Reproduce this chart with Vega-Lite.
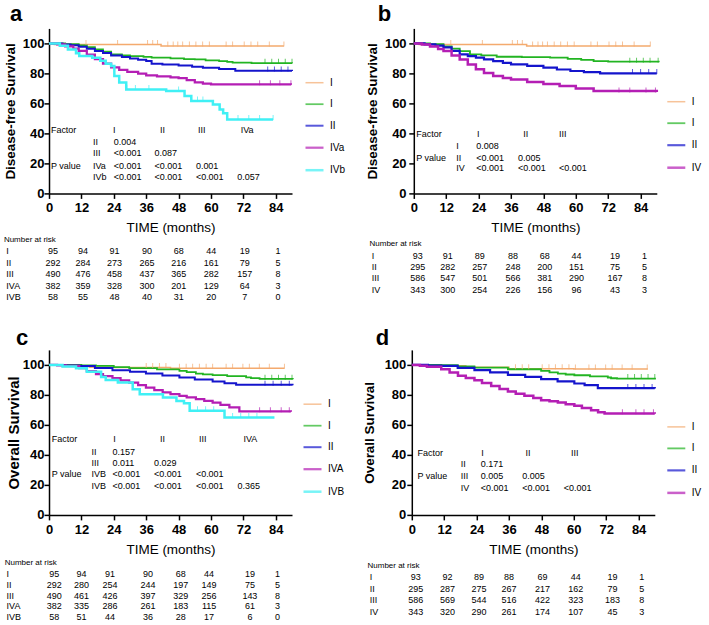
{
"$schema":"https://vega.github.io/schema/vega-lite/v6.json",
"padding":{"left":3,"top":2.4,"right":0,"bottom":0},
"background":"white",
"datasets":{
"ca":[
{"g":"I","t":0,"v":100},{"g":"I","t":2,"v":99.3},{"g":"I","t":41.5,"v":98.3},{"g":"I","t":87,"v":98.3},
{"g":"II","t":0,"v":100},{"g":"II","t":6,"v":99.5},{"g":"II","t":11,"v":98.7},{"g":"II","t":14,"v":97.5},{"g":"II","t":17,"v":96},{"g":"II","t":20,"v":94.5},{"g":"II","t":23,"v":92.7},{"g":"II","t":27,"v":92},{"g":"II","t":30,"v":91.5},{"g":"II","t":35,"v":91},{"g":"II","t":38,"v":90.5},{"g":"II","t":45,"v":90},{"g":"II","t":50,"v":89.5},{"g":"II","t":54,"v":89.3},{"g":"II","t":58,"v":88.7},{"g":"II","t":63,"v":88.2},{"g":"II","t":66,"v":87.6},{"g":"II","t":68,"v":87.1},{"g":"II","t":75,"v":86.8},{"g":"II","t":90,"v":86.7},
{"g":"III","t":0,"v":100},{"g":"III","t":5,"v":99.3},{"g":"III","t":8,"v":98.7},{"g":"III","t":11,"v":97.8},{"g":"III","t":14,"v":96.5},{"g":"III","t":17,"v":95},{"g":"III","t":20,"v":93.6},{"g":"III","t":23,"v":92},{"g":"III","t":27,"v":91},{"g":"III","t":30,"v":90},{"g":"III","t":33,"v":89.1},{"g":"III","t":36,"v":88.2},{"g":"III","t":38,"v":86.5},{"g":"III","t":42,"v":86},{"g":"III","t":48,"v":85.3},{"g":"III","t":53,"v":84.5},{"g":"III","t":57,"v":83.8},{"g":"III","t":63,"v":83},{"g":"III","t":69,"v":81.8},{"g":"III","t":90,"v":81.6},
{"g":"IVa","t":0,"v":100},{"g":"IVa","t":3,"v":99.3},{"g":"IVa","t":6,"v":98},{"g":"IVa","t":9,"v":96.5},{"g":"IVa","t":11,"v":95},{"g":"IVa","t":14,"v":92.5},{"g":"IVa","t":17,"v":89.5},{"g":"IVa","t":20,"v":86.5},{"g":"IVa","t":23,"v":84},{"g":"IVa","t":26,"v":82.3},{"g":"IVa","t":29,"v":81},{"g":"IVa","t":33,"v":79.8},{"g":"IVa","t":36,"v":78.7},{"g":"IVa","t":40,"v":78},{"g":"IVa","t":45,"v":77.3},{"g":"IVa","t":48,"v":76.8},{"g":"IVa","t":51,"v":75.5},{"g":"IVa","t":54,"v":74},{"g":"IVa","t":57,"v":73.2},{"g":"IVa","t":60,"v":72.6},{"g":"IVa","t":89.6,"v":72.4},
{"g":"IVb","t":0,"v":100},{"g":"IVb","t":4,"v":98.5},{"g":"IVb","t":7,"v":96},{"g":"IVb","t":10,"v":93.5},{"g":"IVb","t":11.2,"v":91.6},{"g":"IVb","t":16,"v":90.5},{"g":"IVb","t":19,"v":88.5},{"g":"IVb","t":21,"v":86.5},{"g":"IVb","t":23,"v":84.9},{"g":"IVb","t":24.2,"v":78.2},{"g":"IVb","t":26,"v":74},{"g":"IVb","t":28.6,"v":69.3},{"g":"IVb","t":43.4,"v":68.2},{"g":"IVb","t":50.2,"v":64.9},{"g":"IVb","t":52.7,"v":61.6},{"g":"IVb","t":60.7,"v":59.3},{"g":"IVb","t":63.2,"v":56},{"g":"IVb","t":64.5,"v":53.5},{"g":"IVb","t":66,"v":49.3},{"g":"IVb","t":83,"v":49.3}
],
"cb":[
{"g":"I","t":0,"v":100},{"g":"I","t":2,"v":99.3},{"g":"I","t":41.8,"v":98.3},{"g":"I","t":87.6,"v":98.3},
{"g":"II","t":0,"v":100},{"g":"II","t":6,"v":99.5},{"g":"II","t":11,"v":98},{"g":"II","t":14,"v":96.5},{"g":"II","t":17,"v":94.9},{"g":"II","t":20.8,"v":92.7},{"g":"II","t":25,"v":92},{"g":"II","t":30.7,"v":91.1},{"g":"II","t":40,"v":90.8},{"g":"II","t":50.5,"v":90.5},{"g":"II","t":57,"v":89.7},{"g":"II","t":62,"v":89},{"g":"II","t":66.6,"v":88.2},{"g":"II","t":72,"v":87.8},{"g":"II","t":90.7,"v":87.5},
{"g":"III","t":0,"v":100},{"g":"III","t":4,"v":99.3},{"g":"III","t":8,"v":98.5},{"g":"III","t":11,"v":97.3},{"g":"III","t":14,"v":95},{"g":"III","t":17,"v":92.7},{"g":"III","t":20,"v":91.5},{"g":"III","t":23,"v":90.5},{"g":"III","t":26,"v":89.4},{"g":"III","t":29.4,"v":88.2},{"g":"III","t":33,"v":87},{"g":"III","t":36,"v":86},{"g":"III","t":42,"v":85},{"g":"III","t":48,"v":83.8},{"g":"III","t":53,"v":82.6},{"g":"III","t":58,"v":81.6},{"g":"III","t":63,"v":80.8},{"g":"III","t":69,"v":80},{"g":"III","t":90,"v":80},
{"g":"IV","t":0,"v":100},{"g":"IV","t":3,"v":99.2},{"g":"IV","t":6,"v":98},{"g":"IV","t":9,"v":96.3},{"g":"IV","t":11,"v":94.9},{"g":"IV","t":14,"v":92},{"g":"IV","t":17,"v":89.3},{"g":"IV","t":20,"v":86},{"g":"IV","t":23,"v":82.7},{"g":"IV","t":26,"v":80.3},{"g":"IV","t":29.4,"v":78.2},{"g":"IV","t":33,"v":77},{"g":"IV","t":36,"v":76},{"g":"IV","t":42,"v":74.2},{"g":"IV","t":48,"v":73},{"g":"IV","t":54,"v":71.6},{"g":"IV","t":60,"v":70},{"g":"IV","t":66.6,"v":68.2},{"g":"IV","t":90,"v":67.6}
],
"cc":[
{"g":"I","t":0,"v":100},{"g":"I","t":5,"v":99},{"g":"I","t":15,"v":98.5},{"g":"I","t":24,"v":98.2},{"g":"I","t":45,"v":97.8},{"g":"I","t":87.2,"v":97.8},
{"g":"II","t":0,"v":100},{"g":"II","t":12,"v":99.6},{"g":"II","t":17.4,"v":99.3},{"g":"II","t":24,"v":98.5},{"g":"II","t":29.7,"v":97.8},{"g":"II","t":40,"v":97},{"g":"II","t":48.3,"v":96},{"g":"II","t":51,"v":95.2},{"g":"II","t":54.4,"v":94.2},{"g":"II","t":57,"v":93.6},{"g":"II","t":60.6,"v":93.1},{"g":"II","t":66,"v":92.5},{"g":"II","t":73,"v":91.6},{"g":"II","t":74.8,"v":91.1},{"g":"II","t":78,"v":90.6},{"g":"II","t":90.3,"v":90.5},
{"g":"III","t":0,"v":100},{"g":"III","t":6,"v":99.6},{"g":"III","t":11.2,"v":99.3},{"g":"III","t":17,"v":98},{"g":"III","t":23.5,"v":96.5},{"g":"III","t":30,"v":95.4},{"g":"III","t":35.9,"v":94.2},{"g":"III","t":42,"v":92.9},{"g":"III","t":48.3,"v":91.6},{"g":"III","t":54,"v":90.2},{"g":"III","t":60.6,"v":88.9},{"g":"III","t":65,"v":87.8},{"g":"III","t":69.3,"v":86.7},{"g":"III","t":90.2,"v":86.5},
{"g":"IVA","t":0,"v":100},{"g":"IVA","t":3,"v":99.6},{"g":"IVA","t":6.2,"v":99.3},{"g":"IVA","t":11.2,"v":97.8},{"g":"IVA","t":14,"v":95.8},{"g":"IVA","t":17.4,"v":93.8},{"g":"IVA","t":20,"v":92.5},{"g":"IVA","t":23.5,"v":91.1},{"g":"IVA","t":26.5,"v":89.6},{"g":"IVA","t":29.7,"v":88.2},{"g":"IVA","t":33,"v":86.5},{"g":"IVA","t":35.9,"v":84.9},{"g":"IVA","t":39,"v":83.2},{"g":"IVA","t":42.1,"v":81.6},{"g":"IVA","t":45,"v":80.5},{"g":"IVA","t":48.3,"v":79.4},{"g":"IVA","t":51,"v":78.3},{"g":"IVA","t":54.4,"v":77.2},{"g":"IVA","t":57.5,"v":76},{"g":"IVA","t":60.6,"v":74.9},{"g":"IVA","t":63.5,"v":73.3},{"g":"IVA","t":66.8,"v":71.6},{"g":"IVA","t":70.5,"v":69},{"g":"IVA","t":89.6,"v":68.8},
{"g":"IVB","t":0,"v":100},{"g":"IVB","t":5,"v":98.9},{"g":"IVB","t":10,"v":97.8},{"g":"IVB","t":14,"v":95.5},{"g":"IVB","t":19.3,"v":92},{"g":"IVB","t":21,"v":90},{"g":"IVB","t":25.5,"v":88.2},{"g":"IVB","t":31,"v":83.8},{"g":"IVB","t":33.6,"v":80.5},{"g":"IVB","t":42.2,"v":78.3},{"g":"IVB","t":47.2,"v":76},{"g":"IVB","t":50,"v":74.5},{"g":"IVB","t":52.1,"v":69.4},{"g":"IVB","t":65,"v":65},{"g":"IVB","t":83.5,"v":65}
],
"cd":[
{"g":"I","t":0,"v":100},{"g":"I","t":5,"v":99.5},{"g":"I","t":20,"v":98.5},{"g":"I","t":36,"v":97.5},{"g":"I","t":60,"v":97.2},{"g":"I","t":87.4,"v":97.2},
{"g":"II","t":0,"v":100},{"g":"II","t":10.9,"v":99.8},{"g":"II","t":17,"v":99},{"g":"II","t":23.2,"v":98.2},{"g":"II","t":35.6,"v":97.1},{"g":"II","t":47.9,"v":96},{"g":"II","t":51,"v":95},{"g":"II","t":54.1,"v":94.2},{"g":"II","t":57,"v":93.6},{"g":"II","t":60.2,"v":93.1},{"g":"II","t":66,"v":92.3},{"g":"II","t":72.6,"v":91.6},{"g":"II","t":73.8,"v":91.1},{"g":"II","t":76,"v":90.9},{"g":"II","t":90.4,"v":90.9},
{"g":"III","t":0,"v":100},{"g":"III","t":6,"v":99.6},{"g":"III","t":10.9,"v":99.3},{"g":"III","t":17,"v":98},{"g":"III","t":23.2,"v":96.5},{"g":"III","t":29,"v":95},{"g":"III","t":35.6,"v":93.3},{"g":"III","t":42,"v":92},{"g":"III","t":47.9,"v":90.5},{"g":"III","t":54,"v":89},{"g":"III","t":60.2,"v":87.6},{"g":"III","t":64,"v":86.5},{"g":"III","t":68.9,"v":84.5},{"g":"III","t":90,"v":84.3},
{"g":"IV","t":0,"v":100},{"g":"IV","t":3,"v":99.5},{"g":"IV","t":5.6,"v":98.7},{"g":"IV","t":10.9,"v":97.1},{"g":"IV","t":14,"v":95},{"g":"IV","t":17.1,"v":92.7},{"g":"IV","t":20,"v":91.2},{"g":"IV","t":23.2,"v":89.8},{"g":"IV","t":26,"v":88},{"g":"IV","t":29.4,"v":86},{"g":"IV","t":32.5,"v":84},{"g":"IV","t":35.6,"v":82.3},{"g":"IV","t":38.5,"v":80.8},{"g":"IV","t":41.7,"v":79.4},{"g":"IV","t":45,"v":78},{"g":"IV","t":47.9,"v":76.5},{"g":"IV","t":51,"v":75.7},{"g":"IV","t":54.1,"v":74.9},{"g":"IV","t":57,"v":73.8},{"g":"IV","t":60.2,"v":72.7},{"g":"IV","t":63,"v":71.3},{"g":"IV","t":66.4,"v":69.8},{"g":"IV","t":69,"v":68.5},{"g":"IV","t":71.4,"v":67.6},{"g":"IV","t":90,"v":67.4}
],
"ka":[
{"g":"I","t":13.7,"v":99.3},{"g":"I","t":25.4,"v":99.3},{"g":"I","t":36.5,"v":99.3},{"g":"I","t":38.4,"v":99.3},{"g":"I","t":40.2,"v":99.3},{"g":"I","t":44,"v":98.3},{"g":"I","t":46,"v":98.3},{"g":"I","t":47.7,"v":98.3},{"g":"I","t":49.5,"v":98.3},{"g":"I","t":52,"v":98.3},{"g":"I","t":54.4,"v":98.3},{"g":"I","t":56.9,"v":98.3},{"g":"I","t":59.4,"v":98.3},{"g":"I","t":65.6,"v":98.3},{"g":"I","t":68,"v":98.3},{"g":"I","t":72.3,"v":98.3},{"g":"I","t":74.8,"v":98.3},{"g":"I","t":77.3,"v":98.3},{"g":"I","t":81.6,"v":98.3},{"g":"I","t":87,"v":98.3},
{"g":"II","t":80,"v":86.7},{"g":"II","t":82.5,"v":86.7},{"g":"II","t":85,"v":86.7},{"g":"II","t":87.5,"v":86.7},{"g":"II","t":90,"v":86.7},
{"g":"III","t":81,"v":81.6},{"g":"III","t":83.5,"v":81.6},{"g":"III","t":86,"v":81.6},{"g":"III","t":88.5,"v":81.6},
{"g":"IVa","t":78,"v":72.4},{"g":"IVa","t":82,"v":72.4},{"g":"IVa","t":85.5,"v":72.4},{"g":"IVa","t":89.6,"v":72.4},
{"g":"IVb","t":28.8,"v":69.3},{"g":"IVb","t":32,"v":69.3},{"g":"IVb","t":37,"v":69.3},{"g":"IVb","t":48,"v":68.2},{"g":"IVb","t":55,"v":61.6},{"g":"IVb","t":57,"v":61.6},{"g":"IVb","t":70,"v":49.3},{"g":"IVb","t":74,"v":49.3},{"g":"IVb","t":78,"v":49.3},{"g":"IVb","t":83,"v":49.3}
],
"kb":[
{"g":"I","t":13.7,"v":99.3},{"g":"I","t":25.4,"v":99.3},{"g":"I","t":36.5,"v":99.3},{"g":"I","t":38.4,"v":99.3},{"g":"I","t":40.2,"v":99.3},{"g":"I","t":44,"v":98.3},{"g":"I","t":46,"v":98.3},{"g":"I","t":47.7,"v":98.3},{"g":"I","t":49.5,"v":98.3},{"g":"I","t":52,"v":98.3},{"g":"I","t":54.4,"v":98.3},{"g":"I","t":56.9,"v":98.3},{"g":"I","t":59.4,"v":98.3},{"g":"I","t":65.6,"v":98.3},{"g":"I","t":68,"v":98.3},{"g":"I","t":72.3,"v":98.3},{"g":"I","t":74.8,"v":98.3},{"g":"I","t":77.3,"v":98.3},{"g":"I","t":81.6,"v":98.3},{"g":"I","t":87.6,"v":98.3},
{"g":"II","t":80,"v":87.5},{"g":"II","t":82.5,"v":87.5},{"g":"II","t":85,"v":87.5},{"g":"II","t":87.5,"v":87.5},{"g":"II","t":90.5,"v":87.5},
{"g":"III","t":81,"v":80},{"g":"III","t":84,"v":80},{"g":"III","t":87,"v":80},{"g":"III","t":90,"v":80},
{"g":"IV","t":76,"v":67.6},{"g":"IV","t":80,"v":67.6},{"g":"IV","t":86,"v":67.6},{"g":"IV","t":89.5,"v":67.6}
],
"kc":[
{"g":"I","t":36,"v":98.2},{"g":"I","t":38.4,"v":98.2},{"g":"I","t":40.9,"v":98.2},{"g":"I","t":43.3,"v":98.2},{"g":"I","t":48.3,"v":97.8},{"g":"I","t":50.8,"v":97.8},{"g":"I","t":53.2,"v":97.8},{"g":"I","t":55.7,"v":97.8},{"g":"I","t":58.2,"v":97.8},{"g":"I","t":60.6,"v":97.8},{"g":"I","t":65.6,"v":97.8},{"g":"I","t":68,"v":97.8},{"g":"I","t":71.8,"v":97.8},{"g":"I","t":74.2,"v":97.8},{"g":"I","t":77.9,"v":97.8},{"g":"I","t":81.6,"v":97.8},{"g":"I","t":87.2,"v":97.8},
{"g":"II","t":80,"v":90.5},{"g":"II","t":82.5,"v":90.5},{"g":"II","t":85,"v":90.5},{"g":"II","t":87.5,"v":90.5},{"g":"II","t":90,"v":90.5},
{"g":"III","t":80,"v":86.5},{"g":"III","t":83,"v":86.5},{"g":"III","t":86,"v":86.5},{"g":"III","t":89,"v":86.5},
{"g":"IVA","t":78,"v":68.8},{"g":"IVA","t":82,"v":68.8},{"g":"IVA","t":86,"v":68.8},{"g":"IVA","t":89,"v":68.8},
{"g":"IVB","t":55,"v":69.4},{"g":"IVB","t":58,"v":69.4},{"g":"IVB","t":61,"v":69.4},{"g":"IVB","t":68,"v":65},{"g":"IVB","t":71,"v":65},{"g":"IVB","t":74,"v":65},{"g":"IVB","t":77,"v":65}
],
"kd":[
{"g":"I","t":38.4,"v":97.5},{"g":"I","t":40.9,"v":97.5},{"g":"I","t":43.3,"v":97.5},{"g":"I","t":48.3,"v":97.5},{"g":"I","t":50.8,"v":97.5},{"g":"I","t":53.2,"v":97.5},{"g":"I","t":55.7,"v":97.5},{"g":"I","t":58.2,"v":97.5},{"g":"I","t":60.6,"v":97.2},{"g":"I","t":65.6,"v":97.2},{"g":"I","t":68,"v":97.2},{"g":"I","t":71.8,"v":97.2},{"g":"I","t":74.2,"v":97.2},{"g":"I","t":77.9,"v":97.2},{"g":"I","t":81.6,"v":97.2},{"g":"I","t":87.2,"v":97.2},
{"g":"II","t":80,"v":90.9},{"g":"II","t":82.5,"v":90.9},{"g":"II","t":85,"v":90.9},{"g":"II","t":87.5,"v":90.9},{"g":"II","t":90,"v":90.9},
{"g":"III","t":80,"v":84.3},{"g":"III","t":83,"v":84.3},{"g":"III","t":86,"v":84.3},{"g":"III","t":89,"v":84.3},
{"g":"IV","t":78,"v":67.4},{"g":"IV","t":83,"v":67.4},{"g":"IV","t":86,"v":67.4},{"g":"IV","t":89.5,"v":67.4}
],
"pa":[
{"t":0.7,"v":42,"s":"Factor"},{"t":23.7,"v":42,"s":"I"},{"t":41.1,"v":42,"s":"II"},{"t":55.2,"v":42,"s":"III"},{"t":71,"v":42,"s":"IVa"},
{"t":16.3,"v":34.3,"s":"II"},{"t":24,"v":34.3,"s":"0.004"},
{"t":16.3,"v":26.7,"s":"III"},{"t":24,"v":26.7,"s":"<0.001"},{"t":39.1,"v":26.7,"s":"0.087"},
{"t":0.7,"v":18.3,"s":"P value"},{"t":16.3,"v":18.3,"s":"IVa"},{"t":24,"v":18.3,"s":"<0.001"},{"t":39.1,"v":18.3,"s":"<0.001"},{"t":54.4,"v":18.3,"s":"0.001"},
{"t":16.3,"v":11.1,"s":"IVb"},{"t":24,"v":11.1,"s":"<0.001"},{"t":39.1,"v":11.1,"s":"<0.001"},{"t":54.4,"v":11.1,"s":"<0.001"},{"t":69.7,"v":11.1,"s":"0.057"}
],
"pb":[
{"t":0.9,"v":39.3,"s":"Factor"},{"t":23.4,"v":39.3,"s":"I"},{"t":40.5,"v":39.3,"s":"II"},{"t":53.8,"v":39.3,"s":"III"},
{"t":15.7,"v":31.6,"s":"I"},{"t":23.1,"v":31.6,"s":"0.008"},
{"t":0.9,"v":23.8,"s":"P value"},{"t":15.7,"v":23.8,"s":"II"},{"t":23.1,"v":23.8,"s":"<0.001"},{"t":38.6,"v":23.8,"s":"0.005"},
{"t":15.7,"v":16.7,"s":"IV"},{"t":23.1,"v":16.7,"s":"<0.001"},{"t":38.6,"v":16.7,"s":"<0.001"},{"t":53.8,"v":16.7,"s":"<0.001"}
],
"pc":[
{"t":1,"v":50.4,"s":"Factor"},{"t":23.8,"v":50.4,"s":"I"},{"t":41.1,"v":50.4,"s":"II"},{"t":55.6,"v":50.4,"s":"III"},{"t":72,"v":50.4,"s":"IVA"},
{"t":15.7,"v":42.2,"s":"II"},{"t":23.5,"v":42.2,"s":"0.157"},
{"t":15.7,"v":34.4,"s":"III"},{"t":23.5,"v":34.4,"s":"0.011"},{"t":38.9,"v":34.4,"s":"0.029"},
{"t":1,"v":27.3,"s":"P value"},{"t":15.7,"v":27.3,"s":"IVB"},{"t":23.5,"v":27.3,"s":"<0.001"},{"t":38.9,"v":27.3,"s":"<0.001"},{"t":54.4,"v":27.3,"s":"<0.001"},
{"t":15.7,"v":19.3,"s":"IVB"},{"t":23.5,"v":19.3,"s":"<0.001"},{"t":38.9,"v":19.3,"s":"<0.001"},{"t":54.4,"v":19.3,"s":"<0.001"},{"t":69.8,"v":19.3,"s":"0.365"}
],
"pd":[
{"t":2.1,"v":41.1,"s":"Factor"},{"t":25.7,"v":41.1,"s":"I"},{"t":42.1,"v":41.1,"s":"II"},{"t":59,"v":41.1,"s":"III"},
{"t":18.1,"v":33.8,"s":"II"},{"t":25.5,"v":33.8,"s":"0.171"},
{"t":2.1,"v":26,"s":"P value"},{"t":18.1,"v":26,"s":"III"},{"t":25.5,"v":26,"s":"0.005"},{"t":40.9,"v":26,"s":"0.005"},
{"t":18.1,"v":18,"s":"IV"},{"t":25.5,"v":18,"s":"<0.001"},{"t":40.9,"v":18,"s":"<0.001"},{"t":56.3,"v":18,"s":"<0.001"}
],
"la":[{"r":0,"t":-16.7,"s":"Number at risk"},{"r":1,"t":-15.8,"s":"I"},{"r":2,"t":-15.8,"s":"II"},{"r":3,"t":-15.8,"s":"III"},{"r":4,"t":-15.8,"s":"IVA"},{"r":5,"t":-15.8,"s":"IVB"}],
"lb":[{"r":0,"t":-16.4,"s":"Number at risk"},{"r":1,"t":-15.6,"s":"I"},{"r":2,"t":-15.6,"s":"II"},{"r":3,"t":-15.6,"s":"III"},{"r":4,"t":-15.6,"s":"IV"}],
"lc":[{"r":0,"t":-16.4,"s":"Number at risk"},{"r":1,"t":-15.7,"s":"I"},{"r":2,"t":-15.7,"s":"II"},{"r":3,"t":-15.7,"s":"III"},{"r":4,"t":-15.7,"s":"IVA"},{"r":5,"t":-15.7,"s":"IVB"}],
"ld":[{"r":0,"t":-16.4,"s":"Number at risk"},{"r":1,"t":-15.6,"s":"I"},{"r":2,"t":-15.6,"s":"II"},{"r":3,"t":-15.6,"s":"III"},{"r":4,"t":-15.6,"s":"IV"}],
"na":[
{"r":1,"t":1.5,"n":95},{"r":1,"t":12.6,"n":94},{"r":1,"t":24.3,"n":91},{"r":1,"t":36.3,"n":90},{"r":1,"t":48.1,"n":68},{"r":1,"t":60.1,"n":44},{"r":1,"t":72.5,"n":19},{"r":1,"t":84.8,"n":1},
{"r":2,"t":1.5,"n":292},{"r":2,"t":12.6,"n":284},{"r":2,"t":24.3,"n":273},{"r":2,"t":36.3,"n":265},{"r":2,"t":48.1,"n":216},{"r":2,"t":60.1,"n":161},{"r":2,"t":72.5,"n":79},{"r":2,"t":84.8,"n":5},
{"r":3,"t":1.5,"n":490},{"r":3,"t":12.6,"n":476},{"r":3,"t":24.3,"n":458},{"r":3,"t":36.3,"n":437},{"r":3,"t":48.1,"n":365},{"r":3,"t":60.1,"n":282},{"r":3,"t":72.5,"n":157},{"r":3,"t":84.8,"n":8},
{"r":4,"t":1.5,"n":382},{"r":4,"t":12.6,"n":359},{"r":4,"t":24.3,"n":328},{"r":4,"t":36.3,"n":300},{"r":4,"t":48.1,"n":201},{"r":4,"t":60.1,"n":129},{"r":4,"t":72.5,"n":64},{"r":4,"t":84.8,"n":3},
{"r":5,"t":1.5,"n":58},{"r":5,"t":12.6,"n":55},{"r":5,"t":24.3,"n":48},{"r":5,"t":36.3,"n":40},{"r":5,"t":48.1,"n":31},{"r":5,"t":60.1,"n":20},{"r":5,"t":72.5,"n":7},{"r":5,"t":84.8,"n":0}
],
"nb":[
{"r":1,"t":1.5,"n":93},{"r":1,"t":12.6,"n":91},{"r":1,"t":24.4,"n":89},{"r":1,"t":36.7,"n":88},{"r":1,"t":48.5,"n":68},{"r":1,"t":60.3,"n":44},{"r":1,"t":74.5,"n":19},{"r":1,"t":85.4,"n":1},
{"r":2,"t":1.5,"n":295},{"r":2,"t":12.6,"n":282},{"r":2,"t":24.4,"n":257},{"r":2,"t":36.7,"n":248},{"r":2,"t":48.5,"n":200},{"r":2,"t":60.3,"n":151},{"r":2,"t":74.5,"n":75},{"r":2,"t":85.4,"n":5},
{"r":3,"t":1.5,"n":586},{"r":3,"t":12.6,"n":547},{"r":3,"t":24.4,"n":501},{"r":3,"t":36.7,"n":566},{"r":3,"t":48.5,"n":381},{"r":3,"t":60.3,"n":290},{"r":3,"t":74.5,"n":167},{"r":3,"t":85.4,"n":8},
{"r":4,"t":1.5,"n":343},{"r":4,"t":12.6,"n":300},{"r":4,"t":24.4,"n":254},{"r":4,"t":36.7,"n":226},{"r":4,"t":48.5,"n":156},{"r":4,"t":60.3,"n":96},{"r":4,"t":74.5,"n":43},{"r":4,"t":85.4,"n":3}
],
"nc":[
{"r":1,"t":1.9,"n":95},{"r":1,"t":12,"n":94},{"r":1,"t":22.6,"n":91},{"r":1,"t":36.7,"n":90},{"r":1,"t":48.8,"n":68},{"r":1,"t":59.3,"n":44},{"r":1,"t":74.4,"n":19},{"r":1,"t":84.6,"n":1},
{"r":2,"t":1.9,"n":292},{"r":2,"t":12,"n":280},{"r":2,"t":22.6,"n":254},{"r":2,"t":36.7,"n":244},{"r":2,"t":48.8,"n":197},{"r":2,"t":59.3,"n":149},{"r":2,"t":74.4,"n":75},{"r":2,"t":84.6,"n":5},
{"r":3,"t":1.9,"n":490},{"r":3,"t":12,"n":461},{"r":3,"t":22.6,"n":426},{"r":3,"t":36.7,"n":397},{"r":3,"t":48.8,"n":329},{"r":3,"t":59.3,"n":256},{"r":3,"t":74.4,"n":143},{"r":3,"t":84.6,"n":8},
{"r":4,"t":1.9,"n":382},{"r":4,"t":12,"n":335},{"r":4,"t":22.6,"n":286},{"r":4,"t":36.7,"n":261},{"r":4,"t":48.8,"n":183},{"r":4,"t":59.3,"n":115},{"r":4,"t":74.4,"n":61},{"r":4,"t":84.6,"n":3},
{"r":5,"t":1.9,"n":58},{"r":5,"t":12,"n":51},{"r":5,"t":22.6,"n":44},{"r":5,"t":36.7,"n":36},{"r":5,"t":48.8,"n":28},{"r":5,"t":59.3,"n":17},{"r":5,"t":74.4,"n":6},{"r":5,"t":84.6,"n":0}
],
"nd":[
{"r":1,"t":1.5,"n":93},{"r":1,"t":13.2,"n":92},{"r":1,"t":24.9,"n":89},{"r":1,"t":36,"n":88},{"r":1,"t":48.4,"n":69},{"r":1,"t":60.7,"n":44},{"r":1,"t":74.3,"n":19},{"r":1,"t":85.2,"n":1},
{"r":2,"t":1.5,"n":295},{"r":2,"t":13.2,"n":287},{"r":2,"t":24.9,"n":275},{"r":2,"t":36,"n":267},{"r":2,"t":48.4,"n":217},{"r":2,"t":60.7,"n":162},{"r":2,"t":74.3,"n":79},{"r":2,"t":85.2,"n":5},
{"r":3,"t":1.5,"n":586},{"r":3,"t":13.2,"n":569},{"r":3,"t":24.9,"n":544},{"r":3,"t":36,"n":516},{"r":3,"t":48.4,"n":422},{"r":3,"t":60.7,"n":323},{"r":3,"t":74.3,"n":183},{"r":3,"t":85.2,"n":8},
{"r":4,"t":1.5,"n":343},{"r":4,"t":13.2,"n":320},{"r":4,"t":24.9,"n":290},{"r":4,"t":36,"n":261},{"r":4,"t":48.4,"n":174},{"r":4,"t":60.7,"n":107},{"r":4,"t":74.3,"n":45},{"r":4,"t":85.2,"n":3}
]
},
"vconcat":[
{"hconcat":[
 {"vconcat":[
  {"width":243,"height":165,
   "title":{"text":"a","anchor":"start","frame":"group","dx":-39,"offset":-14.6,"baseline":"alphabetic","fontSize":22,"fontWeight":"bold"},
   "encoding":{
    "x":{"field":"t","type":"quantitative","scale":{"domain":[0,90],"nice":false},"axis":{"values":[0,12,24,36,48,60,72,84],"title":"TIME (months)"}},
    "y":{"field":"v","type":"quantitative","scale":{"domain":[0,110],"nice":false},"axis":{"values":[0,20,40,60,80,100],"title":"Disease-free Survival","labelPadding":0,"titlePadding":5}},
    "color":{"field":"g","type":"nominal","scale":{"domain":["I","II","III","IVa","IVb"],"range":["#F4AA6E","#22B422","#1414CC","#B41EB4","#40F0F5"]},"legend":{"orient":"none","legendX":255,"legendY":44.3,"title":null,"labelExpr":"datum.label == 'II' ? 'I' : datum.label == 'III' ? 'II' : datum.label"}}
   },
   "layer":[
    {"data":{"name":"ca"},"mark":{"type":"line","interpolate":"step-after"},"encoding":{"strokeWidth":{"field":"g","type":"ordinal","scale":{"domain":["I","II","III","IVa","IVb"],"range":[1.5,2.5,2.5,2.5,1.5]},"legend":null}}},
    {"data":{"name":"ka"},"mark":{"type":"tick","orient":"vertical","size":5,"thickness":1,"yOffset":-2}},
    {"data":{"name":"pa"},"mark":{"type":"text","align":"left","baseline":"middle","fontSize":9},"encoding":{"text":{"field":"s"},"color":{"value":"black"}}}
   ]},
  {"width":243,"height":57.5,
   "encoding":{"x":{"field":"t","type":"quantitative","scale":{"domain":[0,90],"nice":false},"axis":null},"y":{"field":"r","type":"quantitative","scale":{"domain":[5,0],"nice":false},"axis":null}},
   "layer":[
    {"data":{"name":"la"},"transform":[{"filter":"datum.r == 0"}],"mark":{"type":"text","align":"left","baseline":"middle","fontSize":8},"encoding":{"text":{"field":"s"}}},
    {"data":{"name":"la"},"transform":[{"filter":"datum.r > 0"}],"mark":{"type":"text","align":"left","baseline":"middle","fontSize":9},"encoding":{"text":{"field":"s"}}},
    {"data":{"name":"na"},"mark":{"type":"text","align":"center","baseline":"middle","fontSize":9},"encoding":{"text":{"field":"n","type":"quantitative","format":"d"}}}
   ]}
 ],"spacing":1.2,"resolve":{"scale":{"color":"independent","strokeWidth":"independent"},"legend":{"color":"independent","strokeWidth":"independent"}}},
 {"vconcat":[
  {"width":243,"height":165,
   "title":{"text":"b","anchor":"start","frame":"group","dx":-36,"offset":-14.6,"baseline":"alphabetic","fontSize":22,"fontWeight":"bold"},
   "encoding":{
    "x":{"field":"t","type":"quantitative","scale":{"domain":[0,90],"nice":false},"axis":{"values":[0,12,24,36,48,60,72,84],"title":"TIME (months)"}},
    "y":{"field":"v","type":"quantitative","scale":{"domain":[0,110],"nice":false},"axis":{"values":[0,20,40,60,80,100],"title":"Disease-free Survival","labelPadding":2.7,"titlePadding":4.7}},
    "color":{"field":"g","type":"nominal","scale":{"domain":["I","II","III","IV"],"range":["#F4AA6E","#22B422","#1414CC","#B41EB4"]},"legend":{"orient":"none","legendX":252,"legendY":63.3,"title":null,"labelExpr":"datum.label == 'II' ? 'I' : datum.label == 'III' ? 'II' : datum.label"}}
   },
   "layer":[
    {"data":{"name":"cb"},"mark":{"type":"line","interpolate":"step-after"},"encoding":{"strokeWidth":{"field":"g","type":"ordinal","scale":{"domain":["I","II","III","IV"],"range":[1.5,2.5,2.5,2.5]},"legend":null}}},
    {"data":{"name":"kb"},"mark":{"type":"tick","orient":"vertical","size":5,"thickness":1,"yOffset":-2}},
    {"data":{"name":"pb"},"mark":{"type":"text","align":"left","baseline":"middle","fontSize":9},"encoding":{"text":{"field":"s"},"color":{"value":"black"}}}
   ]},
  {"width":243,"height":45.6,
   "encoding":{"x":{"field":"t","type":"quantitative","scale":{"domain":[0,90],"nice":false},"axis":null},"y":{"field":"r","type":"quantitative","scale":{"domain":[4,0],"nice":false},"axis":null}},
   "layer":[
    {"data":{"name":"lb"},"transform":[{"filter":"datum.r == 0"}],"mark":{"type":"text","align":"left","baseline":"middle","fontSize":8},"encoding":{"text":{"field":"s"}}},
    {"data":{"name":"lb"},"transform":[{"filter":"datum.r > 0"}],"mark":{"type":"text","align":"left","baseline":"middle","fontSize":9},"encoding":{"text":{"field":"s"}}},
    {"data":{"name":"nb"},"mark":{"type":"text","align":"center","baseline":"middle","fontSize":9},"encoding":{"text":{"field":"n","type":"quantitative","format":"d"}}}
   ]}
 ],"spacing":5.8,"resolve":{"scale":{"color":"independent","strokeWidth":"independent"},"legend":{"color":"independent","strokeWidth":"independent"}}}
],"spacing":18.8,"resolve":{"scale":{"color":"independent","strokeWidth":"independent"},"legend":{"color":"independent","strokeWidth":"independent"}}},
{"hconcat":[
 {"vconcat":[
  {"width":243,"height":165,
   "title":{"text":"c","anchor":"start","frame":"group","dx":-33,"offset":-17,"baseline":"alphabetic","fontSize":22,"fontWeight":"bold"},
   "encoding":{
    "x":{"field":"t","type":"quantitative","scale":{"domain":[0,90],"nice":false},"axis":{"values":[0,12,24,36,48,60,72,84],"title":"TIME (months)"}},
    "y":{"field":"v","type":"quantitative","scale":{"domain":[0,110],"nice":false},"axis":{"values":[0,20,40,60,80,100],"title":"Overall Survival","labelPadding":0,"titlePadding":1,"titleFontSize":15}},
    "color":{"field":"g","type":"nominal","scale":{"domain":["I","II","III","IVA","IVB"],"range":["#F4AA6E","#22B422","#1414CC","#B41EB4","#40F0F5"]},"legend":{"orient":"none","legendX":253,"legendY":44.3,"title":null,"labelExpr":"datum.label == 'II' ? 'I' : datum.label == 'III' ? 'II' : datum.label"}}
   },
   "layer":[
    {"data":{"name":"cc"},"mark":{"type":"line","interpolate":"step-after"},"encoding":{"strokeWidth":{"field":"g","type":"ordinal","scale":{"domain":["I","II","III","IVA","IVB"],"range":[1.5,2.5,2.5,2.5,1.5]},"legend":null}}},
    {"data":{"name":"kc"},"mark":{"type":"tick","orient":"vertical","size":5,"thickness":1,"yOffset":-2}},
    {"data":{"name":"pc"},"mark":{"type":"text","align":"left","baseline":"middle","fontSize":9},"encoding":{"text":{"field":"s"},"color":{"value":"black"}}}
   ]},
  {"width":243,"height":54,
   "encoding":{"x":{"field":"t","type":"quantitative","scale":{"domain":[0,90],"nice":false},"axis":null},"y":{"field":"r","type":"quantitative","scale":{"domain":[5,0],"nice":false},"axis":null}},
   "layer":[
    {"data":{"name":"lc"},"transform":[{"filter":"datum.r == 0"}],"mark":{"type":"text","align":"left","baseline":"middle","fontSize":8},"encoding":{"text":{"field":"s"}}},
    {"data":{"name":"lc"},"transform":[{"filter":"datum.r > 0"}],"mark":{"type":"text","align":"left","baseline":"middle","fontSize":9},"encoding":{"text":{"field":"s"}}},
    {"data":{"name":"nc"},"mark":{"type":"text","align":"center","baseline":"middle","fontSize":9},"encoding":{"text":{"field":"n","type":"quantitative","format":"d"}}}
   ]}
 ],"spacing":3.3,"resolve":{"scale":{"color":"independent","strokeWidth":"independent"},"legend":{"color":"independent","strokeWidth":"independent"}}},
 {"vconcat":[
  {"width":243,"height":165,
   "title":{"text":"d","anchor":"start","frame":"group","dx":-36,"offset":-17,"baseline":"alphabetic","fontSize":22,"fontWeight":"bold"},
   "encoding":{
    "x":{"field":"t","type":"quantitative","scale":{"domain":[0,90],"nice":false},"axis":{"values":[0,12,24,36,48,60,72,84],"title":"TIME (months)"}},
    "y":{"field":"v","type":"quantitative","scale":{"domain":[0,110],"nice":false},"axis":{"values":[0,20,40,60,80,100],"title":"Overall Survival","labelPadding":1,"titlePadding":8}},
    "color":{"field":"g","type":"nominal","scale":{"domain":["I","II","III","IV"],"range":["#F4AA6E","#22B422","#1414CC","#B41EB4"]},"legend":{"orient":"none","legendX":254,"legendY":67,"title":null,"labelExpr":"datum.label == 'II' ? 'I' : datum.label == 'III' ? 'II' : datum.label"}}
   },
   "layer":[
    {"data":{"name":"cd"},"mark":{"type":"line","interpolate":"step-after"},"encoding":{"strokeWidth":{"field":"g","type":"ordinal","scale":{"domain":["I","II","III","IV"],"range":[1.5,2.5,2.5,2.5]},"legend":null}}},
    {"data":{"name":"kd"},"mark":{"type":"tick","orient":"vertical","size":5,"thickness":1,"yOffset":-2}},
    {"data":{"name":"pd"},"mark":{"type":"text","align":"left","baseline":"middle","fontSize":9},"encoding":{"text":{"field":"s"},"color":{"value":"black"}}}
   ]},
  {"width":243,"height":46.4,
   "encoding":{"x":{"field":"t","type":"quantitative","scale":{"domain":[0,90],"nice":false},"axis":null},"y":{"field":"r","type":"quantitative","scale":{"domain":[4,0],"nice":false},"axis":null}},
   "layer":[
    {"data":{"name":"ld"},"transform":[{"filter":"datum.r == 0"}],"mark":{"type":"text","align":"left","baseline":"middle","fontSize":8},"encoding":{"text":{"field":"s"}}},
    {"data":{"name":"ld"},"transform":[{"filter":"datum.r > 0"}],"mark":{"type":"text","align":"left","baseline":"middle","fontSize":9},"encoding":{"text":{"field":"s"}}},
    {"data":{"name":"nd"},"mark":{"type":"text","align":"center","baseline":"middle","fontSize":9},"encoding":{"text":{"field":"n","type":"quantitative","format":"d"}}}
   ]}
 ],"spacing":5.7,"resolve":{"scale":{"color":"independent","strokeWidth":"independent"},"legend":{"color":"independent","strokeWidth":"independent"}}}
],"spacing":16.8,"resolve":{"scale":{"color":"independent","strokeWidth":"independent"},"legend":{"color":"independent","strokeWidth":"independent"}}}
],
"spacing":24.5,
"resolve":{"scale":{"color":"independent","strokeWidth":"independent"},"legend":{"color":"independent","strokeWidth":"independent"}},
"config":{
 "view":{"stroke":null},
 "font":"Liberation Sans",
 "axis":{"domainColor":"black","domainWidth":1.5,"tickColor":"black","tickWidth":1.5,"tickSize":5,"labelColor":"black","labelFont":"Liberation Sans","labelFontSize":13,"labelFontWeight":"bold","labelFlush":false,"labelOverlap":false,"grid":false,"titleColor":"black","titleFont":"Liberation Sans","titleFontSize":13.5},
 "axisX":{"labelPadding":3.5,"titlePadding":6,"titleFontWeight":"normal"},
 "axisY":{"titleFontWeight":"bold"},
 "legend":{"symbolType":"stroke","symbolSize":324,"symbolStrokeWidth":2,"labelFont":"Liberation Sans","labelFontSize":10,"labelColor":"black","labelOffset":5,"rowPadding":6.5,"padding":0},
 "text":{"font":"Liberation Sans","color":"black"},
 "title":{"font":"Liberation Sans","color":"black"}
}
}
